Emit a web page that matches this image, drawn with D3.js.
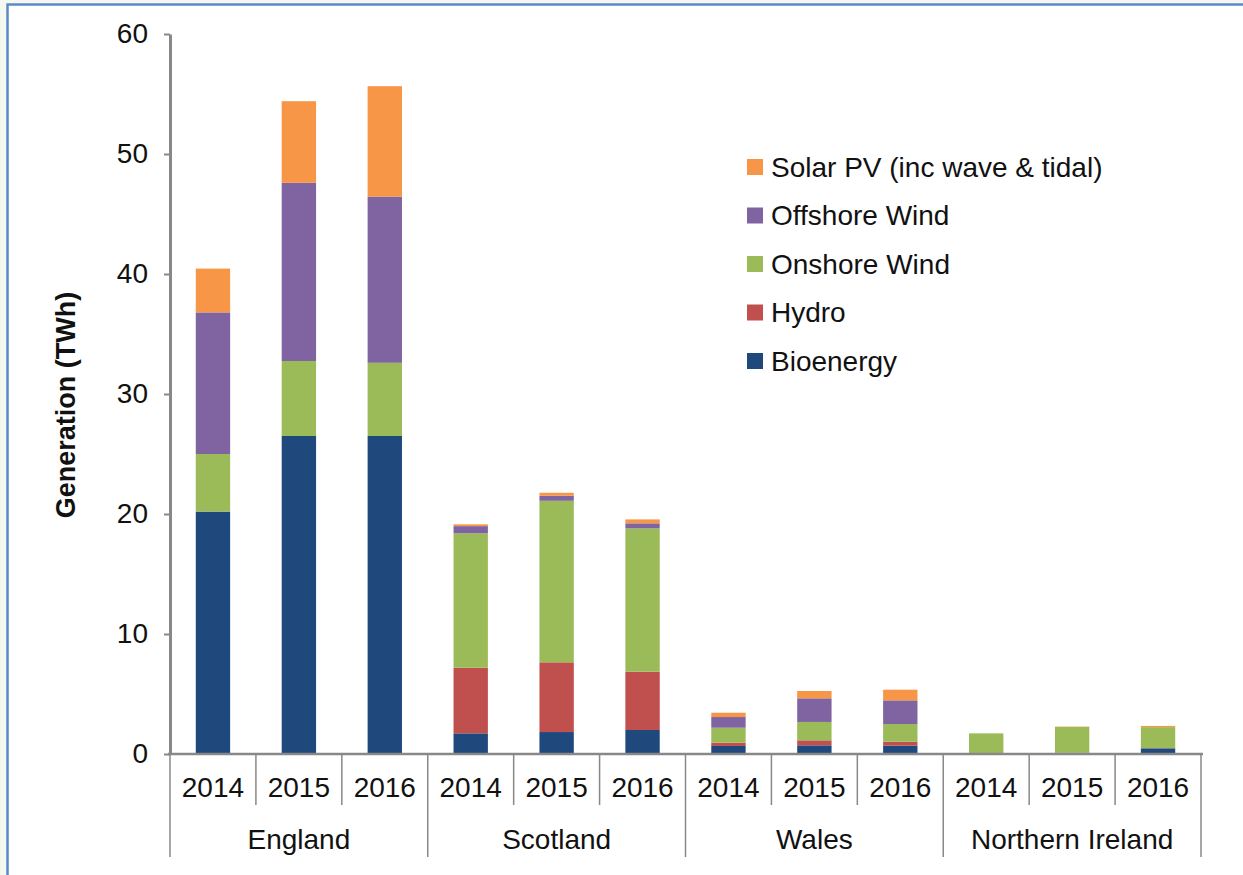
<!DOCTYPE html>
<html>
<head>
<meta charset="utf-8">
<script src="https://cdn.jsdelivr.net/npm/d3@7"></script>
<style>
  body { margin: 0; background: #f5f8f0; }
  svg { display: block; font-family: "Liberation Sans", Arial, sans-serif; }
</style>
</head>
<body>
<svg id="chart" width="1243" height="875"></svg>
<script>
// data (TWh)
const countries = ['England', 'Scotland', 'Wales', 'Northern Ireland'];
const years = ['2014', '2015', '2016'];
const seriesNames = ['Bioenergy', 'Hydro', 'Onshore Wind', 'Offshore Wind', 'Solar PV (inc wave & tidal)'];
const colors = ['#1f497d', '#c0504d', '#9bbb59', '#8064a2', '#f79646'];

// one row per country, one value per year
const bioenergy = [[20.2, 26.5, 26.5], [1.72, 1.83, 2.0], [0.67, 0.72, 0.69], [0, 0.1, 0.47]];
const hydro = [[0, 0, 0], [5.47, 5.81, 4.86], [0.27, 0.42, 0.34], [0, 0, 0.02]];
const onshore = [[4.8, 6.25, 6.1], [11.2, 13.46, 11.94], [1.25, 1.53, 1.47], [1.72, 2.15, 1.75]];
const offshore = [[11.8, 14.85, 13.85], [0.6, 0.42, 0.42], [0.89, 1.97, 1.97], [0, 0, 0]];
const solar = [[3.65, 6.8, 9.2], [0.15, 0.25, 0.33], [0.36, 0.61, 0.89], [0, 0.03, 0.1]];
const yTicks = [0, 10, 20, 30, 40, 50, 60];

const allSeries = [bioenergy, hydro, onshore, offshore, solar];

const svg = d3.select('#chart');

// framed white panel
svg.append('rect')
    .attr('x', 7.5).attr('y', 4.5)
    .attr('width', 1300).attr('height', 1000)
    .attr('fill', '#fff')
    .attr('stroke', '#5a8ac6')
    .attr('stroke-width', 2.5);

const plotLeft = 170, plotRight = 1201, plotTop = 34, plotBottom = 754;

const y = d3.scaleLinear().domain([0, 60]).range([plotBottom, plotTop]);
const x0 = d3.scaleBand().domain(countries).range([plotLeft, plotRight]);
const x1 = d3.scaleBand().domain(years).range([0, x0.bandwidth()])
    .paddingInner(0.6).paddingOuter(0.3);

// build rows for d3.stack
const rows = [];
countries.forEach((c, ci) => {
    years.forEach((yr, yi) => {
        const r = { country: c, year: yr };
        seriesNames.forEach((s, si) => { r[s] = allSeries[si][ci][yi]; });
        rows.push(r);
    });
});

const stacked = d3.stack().keys(seriesNames)(rows);

svg.append('g')
    .selectAll('g')
    .data(stacked)
    .enter().append('g')
    .attr('fill', (d, i) => colors[i])
    .selectAll('rect')
    .data(d => d)
    .enter().append('rect')
    .attr('x', d => x0(d.data.country) + x1(d.data.year))
    .attr('width', x1.bandwidth())
    .attr('y', d => y(d[1]))
    .attr('height', d => y(d[0]) - y(d[1]));

// y axis
const yAxis = svg.append('g')
    .attr('transform', `translate(${plotLeft},0)`)
    .call(d3.axisLeft(y).tickValues(yTicks).tickSize(6).tickSizeOuter(0).tickPadding(16));
yAxis.select('.domain').attr('stroke', '#888').attr('stroke-width', 3);
yAxis.selectAll('.tick line').attr('stroke', '#888').attr('stroke-width', 2);
yAxis.selectAll('.tick text')
    .attr('font-size', 28)
    .attr('font-family', '"Liberation Sans", Arial, sans-serif')
    .attr('fill', '#111');

svg.append('text')
    .attr('transform', 'translate(75,405) rotate(-90)')
    .attr('text-anchor', 'middle')
    .attr('font-size', 27)
    .attr('font-weight', 'bold')
    .attr('fill', '#111')
    .text('Generation (TWh)');

// x axis: baseline, separators and two label rows
const xg = svg.append('g');
xg.append('line')
    .attr('x1', plotLeft - 2).attr('x2', plotRight + 2)
    .attr('y1', plotBottom).attr('y2', plotBottom)
    .attr('stroke', '#888').attr('stroke-width', 2.5);

const slots = [];
countries.forEach(c => years.forEach(yr => slots.push({ country: c, year: yr })));

// year separators (short)
xg.selectAll('line.yr')
    .data(slots.filter(d => d.year !== years[0]))
    .enter().append('line')
    .attr('class', 'yr')
    .attr('x1', d => x0(d.country) + x1(d.year) - x1.step() * x1.paddingInner() / 2)
    .attr('x2', d => x0(d.country) + x1(d.year) - x1.step() * x1.paddingInner() / 2)
    .attr('y1', plotBottom).attr('y2', 805)
    .attr('stroke', '#888').attr('stroke-width', 1.5);

// country separators (long)
xg.selectAll('line.ct')
    .data(countries.concat(['end']))
    .enter().append('line')
    .attr('class', 'ct')
    .attr('x1', d => d === 'end' ? plotRight : x0(d))
    .attr('x2', d => d === 'end' ? plotRight : x0(d))
    .attr('y1', plotBottom).attr('y2', 857)
    .attr('stroke', '#888').attr('stroke-width', 1.5);

xg.selectAll('text.yr')
    .data(slots)
    .enter().append('text')
    .attr('class', 'yr')
    .attr('x', d => x0(d.country) + x1(d.year) + x1.bandwidth() / 2)
    .attr('y', 797)
    .attr('text-anchor', 'middle')
    .attr('font-size', 28)
    .attr('fill', '#111')
    .text(d => d.year);

xg.selectAll('text.ct')
    .data(countries)
    .enter().append('text')
    .attr('class', 'ct')
    .attr('x', d => x0(d) + x0.bandwidth() / 2)
    .attr('y', 849)
    .attr('text-anchor', 'middle')
    .attr('font-size', 28)
    .attr('fill', '#111')
    .text(d => d);

// legend, top entry is the last series
const legend = svg.append('g')
    .selectAll('g')
    .data(seriesNames.slice().reverse())
    .enter().append('g')
    .attr('transform', (d, i) => `translate(747,${167 + i * 48.5})`);

legend.append('rect')
    .attr('x', 0).attr('y', -8)
    .attr('width', 16).attr('height', 16)
    .attr('fill', d => colors[seriesNames.indexOf(d)]);

legend.append('text')
    .attr('x', 24)
    .attr('y', 0)
    .attr('dy', '0.35em')
    .attr('font-size', 28)
    .attr('fill', '#111')
    .text(d => d);
</script>
</body>
</html>
